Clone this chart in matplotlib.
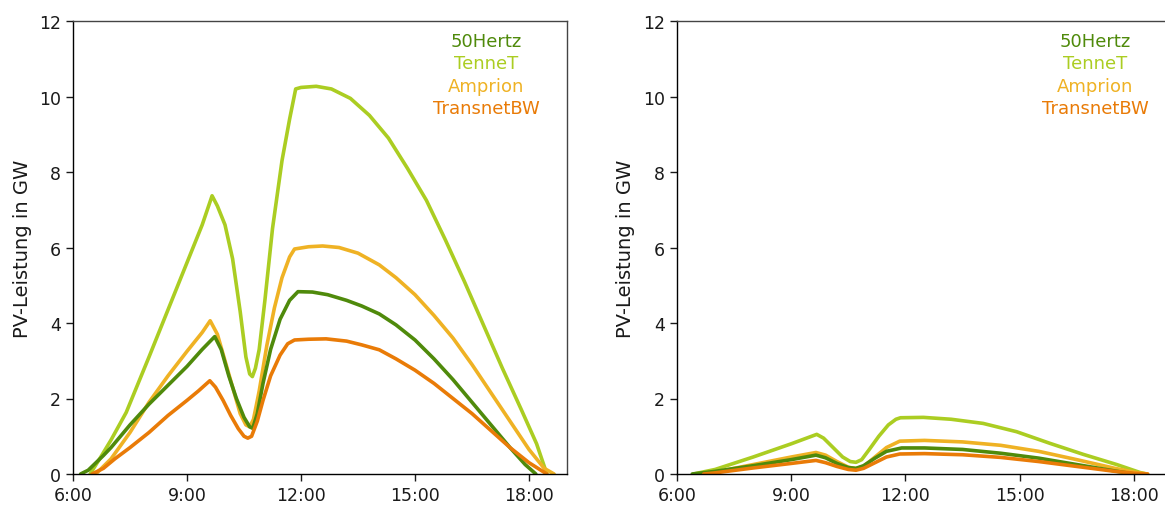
import matplotlib
matplotlib.use("Agg")
import matplotlib.pyplot as plt

plt.rcParams['font.family'] = ['DejaVu Sans']
plt.rcParams['font.size'] = 12.5

names = ["50Hertz", "TenneT", "Amprion", "TransnetBW"]
colors = {"50Hertz": "#4f8a0b", "TenneT": "#abcd22", "Amprion": "#efb224", "TransnetBW": "#e97b07"}

# left panel (hours of day, GW)
l_50hertz_t = [6.2, 6.4, 6.8, 7.0, 7.5, 8.0, 8.5, 9.0, 9.4, 9.73, 9.9, 10.1, 10.3, 10.5, 10.65, 10.73, 10.85, 11.0,
               11.2, 11.45, 11.7, 11.92, 12.3, 12.7, 13.2, 13.6, 14.06, 14.5, 15.0, 15.5, 16.0, 16.5, 17.0, 17.5, 17.9, 18.18]
l_50hertz_v = [0, 0.1, 0.49, 0.7, 1.3, 1.85, 2.35, 2.85, 3.3, 3.64, 3.3, 2.6, 2.0, 1.5, 1.25, 1.21, 1.6, 2.4,
               3.3, 4.1, 4.6, 4.83, 4.82, 4.75, 4.6, 4.45, 4.24, 3.95, 3.55, 3.05, 2.5, 1.9, 1.3, 0.7, 0.25, 0]

l_tennet_t = [6.45, 6.7, 7.0, 7.4, 8.0, 8.5, 9.0, 9.4, 9.66, 9.8, 10.0, 10.2, 10.4, 10.55, 10.65, 10.72, 10.8, 10.9,
              11.05, 11.25, 11.5, 11.7, 11.86, 12.0, 12.4, 12.8, 13.3, 13.8, 14.3, 14.8, 15.3, 15.8, 16.3, 16.8, 17.3,
              17.8, 18.2, 18.47]
l_tennet_v = [0, 0.4, 0.9, 1.63, 3.1, 4.35, 5.6, 6.6, 7.37, 7.1, 6.6, 5.7, 4.3, 3.1, 2.65, 2.58, 2.8, 3.3,
              4.6, 6.5, 8.3, 9.4, 10.2, 10.24, 10.27, 10.2, 9.95, 9.5, 8.9, 8.1, 7.25, 6.2, 5.1, 3.95, 2.8,
              1.7, 0.8, 0]

l_amprion_t = [6.6, 7.0, 7.5, 8.0, 8.5, 9.0, 9.4, 9.61, 9.8, 10.0, 10.2, 10.4, 10.55, 10.65, 10.75, 10.9, 11.1, 11.3,
               11.5, 11.7, 11.83, 12.2, 12.57, 13.0, 13.5, 14.06, 14.5, 15.0, 15.5, 16.0, 16.5, 17.0, 17.5, 18.0, 18.4, 18.66]
l_amprion_v = [0, 0.4, 1.1, 1.9, 2.6, 3.25, 3.75, 4.06, 3.7, 3.0, 2.3, 1.6, 1.3, 1.25, 1.45, 2.2, 3.4, 4.4,
               5.2, 5.75, 5.96, 6.02, 6.04, 6.0, 5.85, 5.54, 5.2, 4.75, 4.2, 3.6, 2.9, 2.15, 1.4, 0.65, 0.15, 0]

l_transnet_t = [6.5, 6.8, 7.1, 7.5, 8.0, 8.5, 9.0, 9.3, 9.6, 9.75, 9.95, 10.15, 10.35, 10.5, 10.6, 10.7, 10.85, 11.0,
                11.2, 11.45, 11.65, 11.83, 12.2, 12.66, 13.2, 13.6, 14.06, 14.5, 15.0, 15.5, 16.0, 16.5, 17.0, 17.5, 18.0, 18.47]
l_transnet_v = [0, 0.15, 0.4, 0.7, 1.1, 1.55, 1.95, 2.2, 2.47, 2.3, 1.95, 1.55, 1.2, 1.0, 0.95, 1.0, 1.4, 1.95,
                2.6, 3.15, 3.45, 3.55, 3.57, 3.58, 3.52, 3.42, 3.29, 3.05, 2.75, 2.4, 2.0, 1.6, 1.15, 0.7, 0.3, 0]

# right panel
r_50hertz_t = [6.4, 7.0, 8.0, 9.0, 9.65, 9.9, 10.2, 10.5, 10.7, 10.9, 11.2, 11.5, 11.9, 12.5, 13.5, 14.5, 15.5, 16.5, 17.5, 18.0]
r_50hertz_v = [0, 0.07, 0.22, 0.38, 0.5, 0.43, 0.28, 0.17, 0.15, 0.22, 0.42, 0.6, 0.69, 0.69, 0.65, 0.55, 0.42, 0.25, 0.08, 0]

r_tennet_t = [6.43, 7.0, 8.0, 9.0, 9.67, 9.85, 10.1, 10.35, 10.55, 10.7, 10.85, 11.05, 11.3, 11.55, 11.75, 11.87,
              12.47, 13.2, 14.04, 14.92, 15.8, 16.67, 17.55, 18.16, 18.33]
r_tennet_v = [0, 0.12, 0.45, 0.8, 1.05, 0.95, 0.7, 0.45, 0.33, 0.31, 0.38, 0.65, 1.0, 1.3, 1.45, 1.49,
              1.5, 1.45, 1.34, 1.12, 0.81, 0.52, 0.25, 0.04, 0]

r_amprion_t = [6.6, 7.0, 8.0, 9.0, 9.65, 9.9, 10.2, 10.5, 10.7, 10.9, 11.2, 11.5, 11.85, 12.5, 13.5, 14.5, 15.5, 16.5, 17.5, 18.0, 18.36]
r_amprion_v = [0, 0.05, 0.25, 0.45, 0.57, 0.5, 0.33, 0.18, 0.14, 0.2, 0.45, 0.7, 0.87, 0.89, 0.85, 0.76, 0.6, 0.38, 0.15, 0.05, 0]

r_transnet_t = [6.7, 7.0, 8.0, 9.0, 9.65, 9.9, 10.2, 10.5, 10.7, 10.9, 11.2, 11.5, 11.85, 12.5, 13.5, 14.5, 15.5, 16.5, 17.5, 18.0, 18.36]
r_transnet_v = [0, 0.03, 0.16, 0.28, 0.36, 0.3, 0.2, 0.12, 0.1, 0.15, 0.3, 0.45, 0.53, 0.54, 0.51, 0.44, 0.33, 0.2, 0.07, 0.02, 0]

x_ticks = [6, 9, 12, 15, 18]
x_labels = ["6:00", "9:00", "12:00", "15:00", "18:00"]
y_ticks = [0, 2, 4, 6, 8, 10, 12]

left = {"50Hertz": (l_50hertz_t, l_50hertz_v), "TenneT": (l_tennet_t, l_tennet_v),
        "Amprion": (l_amprion_t, l_amprion_v), "TransnetBW": (l_transnet_t, l_transnet_v)}
right = {"50Hertz": (r_50hertz_t, r_50hertz_v), "TenneT": (r_tennet_t, r_tennet_v),
         "Amprion": (r_amprion_t, r_amprion_v), "TransnetBW": (r_transnet_t, r_transnet_v)}

fig = plt.figure(figsize=(11.65, 5.1), dpi=100)
ax1 = fig.add_axes([73 / 1165, 35 / 510, 494 / 1165, 453 / 510])
ax2 = fig.add_axes([677 / 1165, 35 / 510, 495 / 1165, 453 / 510])

for ax, data, legx, labx in [(ax1, left, 0.836, -0.083), (ax2, right, 0.845, -0.085)]:
    for n in ["TenneT", "Amprion", "50Hertz", "TransnetBW"]:
        t, v = data[n]
        ax.plot(t, v, color=colors[n], lw=2.6, solid_joinstyle="round", solid_capstyle="round")
    ax.set_xlim(6, 19)
    ax.set_ylim(0, 12)
    ax.set_xticks(x_ticks)
    ax.set_xticklabels(x_labels)
    ax.set_yticks(y_ticks)
    ax.tick_params(direction="out", length=5, width=1, colors="#1a1a1a", labelsize=12.5)
    for s in ax.spines.values():
        s.set_linewidth(1.0)
    ax.spines["top"].set_color("#444444")
    ax.spines["right"].set_color("#444444")
    ax.set_ylabel("PV-Leistung in GW", color="#1a1a1a", fontsize=14)
    ax.yaxis.set_label_coords(labx, 0.5)
    for i, n in enumerate(names):
        ax.text(legx, 0.956 - i * 0.0497, n, color=colors[n], ha="center", va="center",
                transform=ax.transAxes, fontsize=13)

fig.savefig("out.png", dpi=100)
